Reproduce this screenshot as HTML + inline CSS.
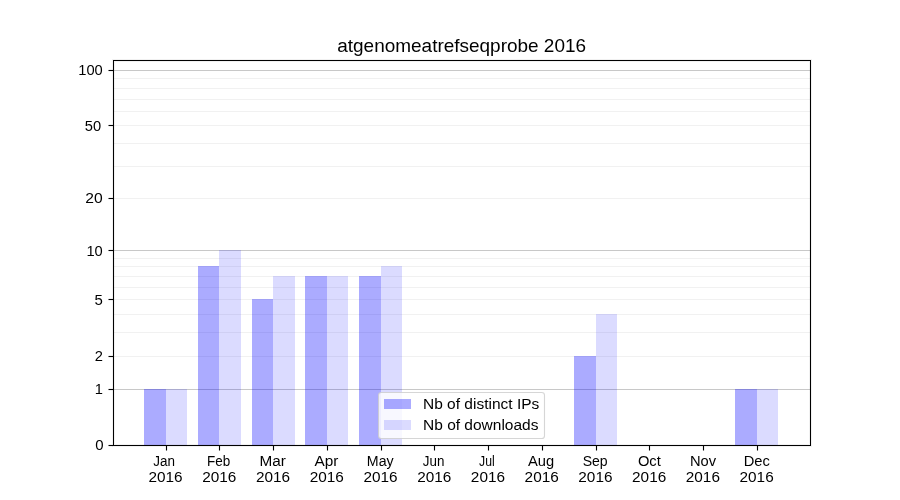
<!DOCTYPE html><html><head><meta charset="utf-8"><style>html,body{margin:0;padding:0;background:#fff;width:900px;height:500px;overflow:hidden}svg{display:block;will-change:transform}text{font-family:"Liberation Sans",sans-serif;fill:#000}</style></head><body>
<svg width="900" height="500" viewBox="0 0 900 500">
<rect x="0" y="0" width="900" height="500" fill="#fff"/>
<rect x="114" y="356" width="696" height="1" fill="#f1f1f1"/>
<rect x="114" y="332" width="696" height="1" fill="#f1f1f1"/>
<rect x="114" y="314" width="696" height="1" fill="#f1f1f1"/>
<rect x="114" y="299" width="696" height="1" fill="#f1f1f1"/>
<rect x="114" y="287" width="696" height="1" fill="#f1f1f1"/>
<rect x="114" y="276" width="696" height="1" fill="#f1f1f1"/>
<rect x="114" y="266" width="696" height="1" fill="#f1f1f1"/>
<rect x="114" y="258" width="696" height="1" fill="#f1f1f1"/>
<rect x="114" y="198" width="696" height="1" fill="#f1f1f1"/>
<rect x="114" y="166" width="696" height="1" fill="#f1f1f1"/>
<rect x="114" y="143" width="696" height="1" fill="#f1f1f1"/>
<rect x="114" y="125" width="696" height="1" fill="#f1f1f1"/>
<rect x="114" y="111" width="696" height="1" fill="#f1f1f1"/>
<rect x="114" y="99" width="696" height="1" fill="#f1f1f1"/>
<rect x="114" y="88" width="696" height="1" fill="#f1f1f1"/>
<rect x="114" y="78" width="696" height="1" fill="#f1f1f1"/>
<rect x="114" y="389" width="696" height="1" fill="#c8c8c8"/>
<rect x="114" y="250" width="696" height="1" fill="#c8c8c8"/>
<rect x="114" y="70" width="696" height="1" fill="#c8c8c8"/>
<rect x="144" y="389" width="22" height="56" fill="#0000ff" fill-opacity="0.33"/>
<rect x="166" y="389" width="21" height="56" fill="#0000ff" fill-opacity="0.14"/>
<rect x="198" y="266" width="21" height="179" fill="#0000ff" fill-opacity="0.33"/>
<rect x="219" y="250" width="22" height="195" fill="#0000ff" fill-opacity="0.14"/>
<rect x="252" y="299" width="21" height="146" fill="#0000ff" fill-opacity="0.33"/>
<rect x="273" y="276" width="22" height="169" fill="#0000ff" fill-opacity="0.14"/>
<rect x="305" y="276" width="22" height="169" fill="#0000ff" fill-opacity="0.33"/>
<rect x="327" y="276" width="21" height="169" fill="#0000ff" fill-opacity="0.14"/>
<rect x="359" y="276" width="22" height="169" fill="#0000ff" fill-opacity="0.33"/>
<rect x="381" y="266" width="21" height="179" fill="#0000ff" fill-opacity="0.14"/>
<rect x="574" y="356" width="22" height="89" fill="#0000ff" fill-opacity="0.33"/>
<rect x="596" y="314" width="21" height="131" fill="#0000ff" fill-opacity="0.14"/>
<rect x="735" y="389" width="22" height="56" fill="#0000ff" fill-opacity="0.33"/>
<rect x="757" y="389" width="21" height="56" fill="#0000ff" fill-opacity="0.14"/>
<path d="M112 59h700v1h-700zM112 61h700v1h-700zM112 444h700v1h-700zM112 446h700v1h-700zM112 59h1v388h-1zM114 59h1v388h-1zM809 59h1v388h-1zM811 59h1v388h-1z" fill="#000" fill-opacity="0.055"/>
<rect x="113" y="60" width="698" height="1" fill="#000"/>
<rect x="113" y="445" width="698" height="1" fill="#000"/>
<rect x="113" y="60" width="1" height="386" fill="#000"/>
<rect x="810" y="60" width="1" height="386" fill="#000"/>
<rect x="165.94" y="446" width="1.12" height="4.5" fill="#000"/>
<rect x="218.94" y="446" width="1.12" height="4.5" fill="#000"/>
<rect x="272.94" y="446" width="1.12" height="4.5" fill="#000"/>
<rect x="326.94" y="446" width="1.12" height="4.5" fill="#000"/>
<rect x="380.94" y="446" width="1.12" height="4.5" fill="#000"/>
<rect x="433.94" y="446" width="1.12" height="4.5" fill="#000"/>
<rect x="487.94" y="446" width="1.12" height="4.5" fill="#000"/>
<rect x="541.94" y="446" width="1.12" height="4.5" fill="#000"/>
<rect x="595.94" y="446" width="1.12" height="4.5" fill="#000"/>
<rect x="648.94" y="446" width="1.12" height="4.5" fill="#000"/>
<rect x="702.94" y="446" width="1.12" height="4.5" fill="#000"/>
<rect x="756.94" y="446" width="1.12" height="4.5" fill="#000"/>
<rect x="108.5" y="444.94" width="4.5" height="1.12" fill="#000"/>
<rect x="108.5" y="388.94" width="4.5" height="1.12" fill="#000"/>
<rect x="108.5" y="355.94" width="4.5" height="1.12" fill="#000"/>
<rect x="108.5" y="298.94" width="4.5" height="1.12" fill="#000"/>
<rect x="108.5" y="249.94" width="4.5" height="1.12" fill="#000"/>
<rect x="108.5" y="197.94" width="4.5" height="1.12" fill="#000"/>
<rect x="108.5" y="124.94" width="4.5" height="1.12" fill="#000"/>
<rect x="108.5" y="69.94" width="4.5" height="1.12" fill="#000"/>
<rect x="378.5" y="392.5" width="166" height="46" rx="2.8" ry="2.8" fill="#fff" fill-opacity="0.8" stroke="#cccccc" stroke-opacity="0.8" stroke-width="1.1"/>
<rect x="384" y="399" width="27" height="10" fill="#0000ff" fill-opacity="0.33"/>
<rect x="384" y="420" width="27" height="10" fill="#0000ff" fill-opacity="0.14"/>
<text x="164.10" y="466.00" font-size="14.7" text-anchor="middle" textLength="21.68" lengthAdjust="spacingAndGlyphs">Jan</text>
<text x="165.53" y="482.00" font-size="14.7" text-anchor="middle" textLength="34.17" lengthAdjust="spacingAndGlyphs">2016</text>
<text x="218.64" y="466.00" font-size="14.7" text-anchor="middle" textLength="23.20" lengthAdjust="spacingAndGlyphs">Feb</text>
<text x="219.27" y="482.00" font-size="14.7" text-anchor="middle" textLength="34.17" lengthAdjust="spacingAndGlyphs">2016</text>
<text x="272.77" y="466.00" font-size="14.7" text-anchor="middle" textLength="26.35" lengthAdjust="spacingAndGlyphs">Mar</text>
<text x="273.00" y="482.00" font-size="14.7" text-anchor="middle" textLength="34.17" lengthAdjust="spacingAndGlyphs">2016</text>
<text x="326.51" y="466.00" font-size="14.7" text-anchor="middle" textLength="23.90" lengthAdjust="spacingAndGlyphs">Apr</text>
<text x="326.74" y="482.00" font-size="14.7" text-anchor="middle" textLength="34.17" lengthAdjust="spacingAndGlyphs">2016</text>
<text x="380.25" y="466.00" font-size="14.7" text-anchor="middle" textLength="26.80" lengthAdjust="spacingAndGlyphs">May</text>
<text x="380.48" y="482.00" font-size="14.7" text-anchor="middle" textLength="34.17" lengthAdjust="spacingAndGlyphs">2016</text>
<text x="433.58" y="466.00" font-size="14.7" text-anchor="middle" textLength="21.58" lengthAdjust="spacingAndGlyphs">Jun</text>
<text x="434.21" y="482.00" font-size="14.7" text-anchor="middle" textLength="34.17" lengthAdjust="spacingAndGlyphs">2016</text>
<text x="486.92" y="466.00" font-size="14.7" text-anchor="middle" textLength="15.65" lengthAdjust="spacingAndGlyphs">Jul</text>
<text x="487.95" y="482.00" font-size="14.7" text-anchor="middle" textLength="34.17" lengthAdjust="spacingAndGlyphs">2016</text>
<text x="541.05" y="466.00" font-size="14.7" text-anchor="middle">Aug</text>
<text x="541.68" y="482.00" font-size="14.7" text-anchor="middle" textLength="34.17" lengthAdjust="spacingAndGlyphs">2016</text>
<text x="595.19" y="466.00" font-size="14.7" text-anchor="middle" textLength="25.05" lengthAdjust="spacingAndGlyphs">Sep</text>
<text x="595.42" y="482.00" font-size="14.7" text-anchor="middle" textLength="34.17" lengthAdjust="spacingAndGlyphs">2016</text>
<text x="649.33" y="466.00" font-size="14.7" text-anchor="middle">Oct</text>
<text x="649.16" y="482.00" font-size="14.7" text-anchor="middle" textLength="34.17" lengthAdjust="spacingAndGlyphs">2016</text>
<text x="703.06" y="466.00" font-size="14.7" text-anchor="middle">Nov</text>
<text x="702.89" y="482.00" font-size="14.7" text-anchor="middle" textLength="34.17" lengthAdjust="spacingAndGlyphs">2016</text>
<text x="756.80" y="466.00" font-size="14.7" text-anchor="middle">Dec</text>
<text x="756.63" y="482.00" font-size="14.7" text-anchor="middle" textLength="34.17" lengthAdjust="spacingAndGlyphs">2016</text>
<text x="103.60" y="450.00" font-size="14.7" text-anchor="end" textLength="8.34" lengthAdjust="spacingAndGlyphs">0</text>
<text x="102.80" y="394.00" font-size="14.7" text-anchor="end">1</text>
<text x="102.80" y="361.00" font-size="14.7" text-anchor="end">2</text>
<text x="102.80" y="305.00" font-size="14.7" text-anchor="end" textLength="8.34" lengthAdjust="spacingAndGlyphs">5</text>
<text x="102.80" y="256.00" font-size="14.7" text-anchor="end">10</text>
<text x="102.80" y="203.00" font-size="14.7" text-anchor="end" textLength="17.43" lengthAdjust="spacingAndGlyphs">20</text>
<text x="101.20" y="131.00" font-size="14.7" text-anchor="end">50</text>
<text x="102.80" y="75.00" font-size="14.7" text-anchor="end">100</text>
<text x="461.65" y="52.00" font-size="17.66" text-anchor="middle" textLength="248.80" lengthAdjust="spacingAndGlyphs">atgenomeatrefseqprobe 2016</text>
<text x="423.00" y="409.00" font-size="14.7" text-anchor="start" textLength="116.27" lengthAdjust="spacingAndGlyphs">Nb of distinct IPs</text>
<text x="423.00" y="430.00" font-size="14.7" text-anchor="start" textLength="115.50" lengthAdjust="spacingAndGlyphs">Nb of downloads</text>
</svg></body></html>
